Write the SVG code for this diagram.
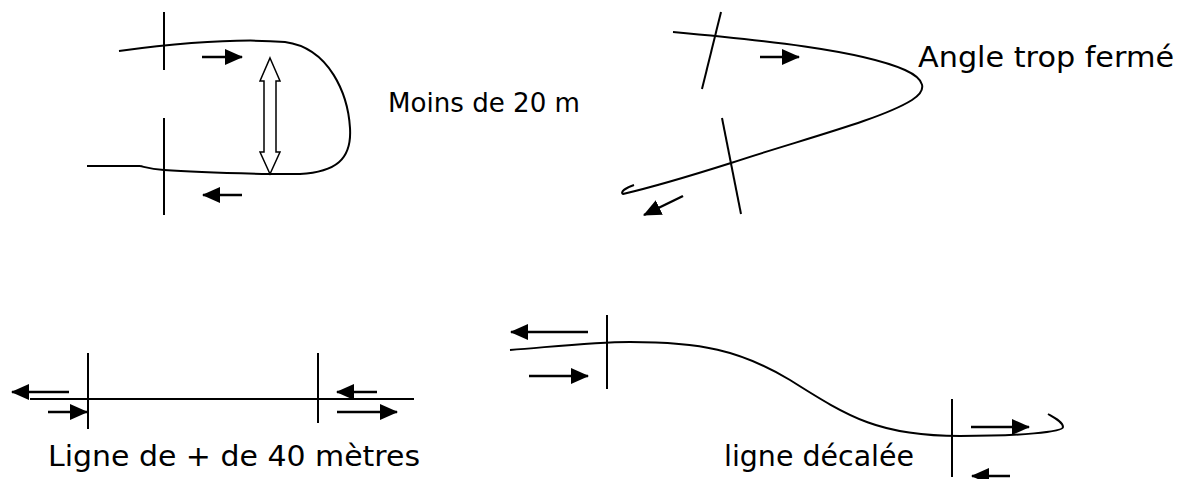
<svg xmlns="http://www.w3.org/2000/svg" width="1188" height="479" viewBox="0 0 1188 479">
<style>
.ln{fill:none;stroke:#000;stroke-width:2}
.ar{fill:none;stroke:#000;stroke-width:2.5;marker-end:url(#ah)}
.lbl{font-family:"DejaVu Sans","Liberation Sans",sans-serif;font-size:29px;fill:#000}
</style>
<defs>
<marker id="ah" markerUnits="userSpaceOnUse" markerWidth="20" markerHeight="18" refX="17" refY="9" orient="auto">
<path d="M0,1 L18,9 L0,17 Z" fill="#000"/>
</marker>
</defs>
<rect width="1188" height="479" fill="#fff"/>

<g id="loop">
<line class="ln" x1="164" y1="12" x2="164" y2="70"/>
<line class="ln" x1="164" y1="118" x2="164" y2="215"/>
<path class="ln" d="M119,51 C180,43 240,38 285,42 C330,48 348,95 350,128 C352,160 335,172 300,174 L270,174 C220,173 190,172 164,170 C150,169 145,167 140,166"/>
<line class="ln" x1="87" y1="166" x2="140" y2="166"/>
<path d="M270,58 L280,81 L276,81 L276,152 L280,152 L270,174 L260,152 L264,152 L264,81 L260,81 Z" fill="#fff" stroke="#000" stroke-width="1.5"/>
</g>

<g id="angle">
<line class="ln" x1="721" y1="12" x2="702" y2="89"/>
<line class="ln" x1="722" y1="118" x2="741" y2="214"/>
<path class="ln" d="M673,32 C760,40 860,50 905,70 C925,79 928,90 912,100 C880,120 800,140 731,163 C690,176 640,190 623,194 C620,192 625,188 634,185"/>
</g>

<g id="straight">
<line class="ln" x1="88" y1="353" x2="88" y2="429"/>
<line class="ln" x1="318" y1="353" x2="318" y2="423"/>
<line class="ln" x1="30" y1="399" x2="414" y2="399"/>
</g>

<g id="offset">
<line class="ln" x1="607" y1="315" x2="607" y2="389"/>
<line class="ln" x1="952" y1="399" x2="952" y2="477"/>
<path class="ln" d="M510,350 C560,346 595,342 630,342 C700,342 740,350 790,380 C850,418 880,436 960,436 C1020,436 1063,432 1063,427 C1063,422 1055,418 1048,414"/>
</g>

<g id="arrows">
<line class="ar" x1="202" y1="57" x2="242" y2="57"/>
<line class="ar" x1="242" y1="195" x2="203" y2="195"/>
<line class="ar" x1="760" y1="57" x2="799" y2="57"/>
<line class="ar" x1="683" y1="196" x2="644" y2="215"/>
<line class="ar" x1="69" y1="392" x2="12" y2="392"/>
<line class="ar" x1="48" y1="412" x2="87" y2="412"/>
<line class="ar" x1="377" y1="392" x2="337" y2="392"/>
<line class="ar" x1="337" y1="412" x2="397" y2="412"/>
<line class="ar" x1="588" y1="332" x2="511" y2="332"/>
<line class="ar" x1="529" y1="376" x2="588" y2="376"/>
<line class="ar" x1="971" y1="427" x2="1029" y2="427"/>
<line class="ar" x1="1010" y1="476" x2="972" y2="476"/>
</g>

<g id="labels">
<text class="lbl" x="388" y="112" style="font-size:27px" textLength="192" lengthAdjust="spacingAndGlyphs">Moins de 20 m</text>
<text class="lbl" x="918" y="67" textLength="256" lengthAdjust="spacingAndGlyphs">Angle trop fermé</text>
<text class="lbl" x="48" y="466" textLength="372" lengthAdjust="spacingAndGlyphs">Ligne de + de 40 mètres</text>
<text class="lbl" x="724" y="466" textLength="190" lengthAdjust="spacingAndGlyphs">ligne décalée</text>
</g>
</svg>
